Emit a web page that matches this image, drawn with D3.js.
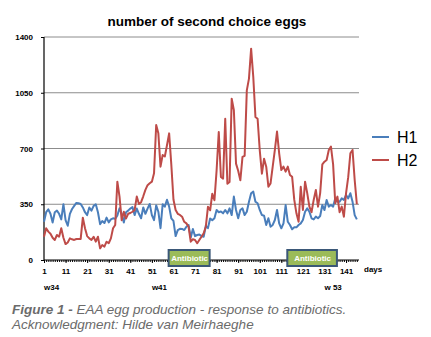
<!DOCTYPE html>
<html lang="en">
<head>
<meta charset="utf-8">
<title>number of second choice eggs</title>
<script src="https://d3js.org/d3.v7.min.js"></script>
<style>
  body { margin: 0; background: #fff; }
  svg { display: block; font-family: "Liberation Sans", Arial, sans-serif; }
  .axis text { font-size: 8px; font-weight: bold; fill: #000; }
  .axis path, .axis line { stroke: #000; }
</style>
</head>
<body>
<div id="chart"></div>
<script>
// daily counts of second choice eggs per house
var days = d3.range(1, 147);
var h1 = [240,300,318,290,235,300,310,290,255,350, 250,215,290,320,340,358,356,352,330,300,
          282,330,310,340,350,300,225,245,232,266, 236,255,262,258,280,325,290,235,300,310,
          323,332,282,323,290,262,330,290,323,352, 282,250,343,303,200,350,335,378,335,262,
          245,150,188,196,195,188,209,220,140,195, 150,157,160,150,146,215,200,260,250,262,
          314,300,305,293,314,293,324,282,398,314, 262,314,324,282,303,366,419,429,366,356,
          314,282,278,220,262,209,220,251,314,230, 199,230,345,240,220,193,205,205,220,230,
          251,303,324,303,262,255,272,262,276,345, 314,377,335,345,335,387,366,366,387,377,
          408,387,419,366,282,255];
var h2 = [146,199,178,165,140,126,157,146,199,140, 100,110,136,130,126,132,132,132,266,199,
          150,136,126,146,115,146,73,94,84,115, 105,136,199,220,492,398,250,303,260,290,
          295,303,313,398,352,363,400,440,470,482, 492,545,848,795,586,659,650,720,795,600,
          380,314,290,283,272,240,230,209,115,130, 126,105,126,146,167,209,335,312,416,375,
          563,804,521,511,887,479,490,1013,940,605, 560,500,647,654,1065,1139,1327,1149,898,887,
          689,542,636,586,460,481,586,691,806,670, 565,586,555,586,534,523,377,293,240,460,
          314,492,420,335,300,377,440,335,420,600, 617,628,691,712,600,356,398,300,335,272,
          420,520,670,691,502,350,314];
var series = [
  { name: "H1", values: h1, color: "#4a7ebb" },
  { name: "H2", values: h2, color: "#be4b48" }
];
var yTicks = [0, 350, 700, 1050, 1400];
var xTicks = [1, 11, 21, 31, 41, 51, 61, 71, 81, 91, 101, 111, 121, 131, 141];
var weeks = [{ day: 1, label: "w34" }, { day: 51, label: "w41" }, { day: 131, label: "w 53" }];
var antibiotic = [[59, 78], [114, 137]];

var width = 431, height = 337;
var svg = d3.select("#chart").append("svg")
  .attr("width", width)
  .attr("height", height);

var x = d3.scaleLinear().domain([1, 147]).range([44, 359]);
var y = d3.scaleLinear().domain([0, 1400]).range([260, 37]);

svg.append("text")
  .attr("x", 207).attr("y", 26)
  .attr("text-anchor", "middle")
  .style("font-size", "13.5px").style("font-weight", "bold")
  .text("number of second choice eggs");

// horizontal grid
svg.append("g").selectAll("line")
  .data(yTicks.slice(1))
  .enter().append("line")
  .attr("x1", x(1)).attr("x2", 359)
  .attr("y1", function(d) { return y(d); })
  .attr("y2", function(d) { return y(d); })
  .attr("stroke", "#8c8c8c").attr("stroke-width", 1);

var yAxis = svg.append("g")
  .attr("class", "axis")
  .attr("transform", "translate(" + x(1) + ",0)")
  .call(d3.axisLeft(y).tickValues(yTicks).tickFormat(d3.format("d")).tickSize(3).tickPadding(8));
yAxis.select(".domain").remove();
yAxis.append("line")
  .attr("x1", 0).attr("x2", 0).attr("y1", y(1400)).attr("y2", y(0))
  .attr("stroke", "#000").attr("stroke-width", 1.2);

// minor day ticks
var minor = svg.append("g")
  .attr("class", "axis")
  .attr("transform", "translate(0," + y(0) + ")")
  .call(d3.axisBottom(x).tickValues(days).tickSize(2).tickFormat(""));
minor.select(".domain").remove();

var xAxis = svg.append("g")
  .attr("class", "axis")
  .attr("transform", "translate(0," + y(0) + ")")
  .call(d3.axisBottom(x).tickValues(xTicks).tickSize(3).tickPadding(5).tickSizeOuter(0));
xAxis.select(".domain")
  .attr("d", "M" + x(1) + ",0H359").attr("stroke-width", 1.2);

svg.append("text")
  .attr("x", 364).attr("y", 272)
  .style("font-size", "8px").style("font-weight", "bold")
  .text("days");

svg.append("g").selectAll("text")
  .data(weeks)
  .enter().append("text")
  .attr("x", function(d) { return x(d.day); })
  .attr("y", 290)
  .style("font-size", "8px").style("font-weight", "bold")
  .text(function(d) { return d.label; });

var line = d3.line()
  .x(function(d, i) { return x(days[i]); })
  .y(function(d) { return y(d); });

svg.append("g").selectAll("path")
  .data(series)
  .enter().append("path")
  .attr("d", function(s) { return line(s.values); })
  .attr("fill", "none")
  .attr("stroke", function(s) { return s.color; })
  .attr("stroke-width", 2)
  .attr("stroke-linejoin", "round");

// antibiotic periods
var boxes = svg.append("g").selectAll("g")
  .data(antibiotic)
  .enter().append("g");
boxes.append("rect")
  .attr("x", function(d) { return x(d[0]) - 0.5; })
  .attr("y", 250)
  .attr("width", function(d) { return x(d[1]) - x(d[0]); })
  .attr("height", 16)
  .attr("fill", "#9bbb59")
  .attr("stroke", "#3b5878").attr("stroke-width", 2);
boxes.append("text")
  .attr("x", function(d) { return (x(d[0]) + x(d[1])) / 2; })
  .attr("y", 261)
  .attr("text-anchor", "middle")
  .attr("fill", "#fff")
  .style("font-size", "8px").style("font-weight", "bold")
  .text("Antibiotic");

// legend
var legend = svg.append("g").selectAll("g")
  .data(series)
  .enter().append("g")
  .attr("transform", function(d, i) { return "translate(372," + (137 + i * 23) + ")"; });
legend.append("line")
  .attr("x1", 0).attr("x2", 17)
  .attr("stroke", function(d) { return d.color; })
  .attr("stroke-width", 2);
legend.append("text")
  .attr("x", 25).attr("y", 6)
  .style("font-size", "16px")
  .text(function(d) { return d.name; });

// caption
var caption = svg.append("text")
  .attr("x", 12).attr("y", 314)
  .attr("fill", "#6b6b6b")
  .style("font-size", "13.5px").style("font-style", "italic");
caption.append("tspan").style("font-weight", "bold").text("Figure 1 -");
caption.append("tspan").text(" EAA egg production - response to antibiotics.");
svg.append("text")
  .attr("x", 12).attr("y", 329)
  .attr("fill", "#6b6b6b")
  .style("font-size", "13.5px").style("font-style", "italic")
  .text("Acknowledgment: Hilde van Meirhaeghe");
</script>
</body>
</html>
